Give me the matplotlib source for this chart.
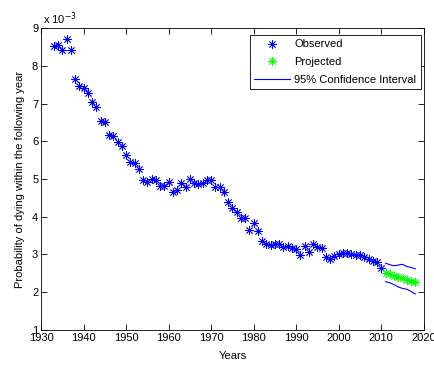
import matplotlib
matplotlib.use("Agg")
import matplotlib.pyplot as plt
import numpy as np

plt.rcParams['font.family'] = ['Liberation Sans', 'DejaVu Sans']

# observed death probability (units of 1e-3)
obs_years = np.arange(1933, 2011)
obs_vals = [8.53, 8.55, 8.42, 8.71, 8.42, 7.65, 7.47, 7.42, 7.29, 7.03,
            6.92, 6.55, 6.52, 6.18, 6.13, 5.97, 5.88, 5.64, 5.44, 5.42,
            5.26, 4.97, 4.93, 5.00, 4.97, 4.81, 4.81, 4.91, 4.66, 4.71,
            4.89, 4.78, 4.99, 4.90, 4.86, 4.90, 4.97, 4.97, 4.78, 4.78,
            4.65, 4.40, 4.22, 4.13, 3.96, 3.98, 3.65, 3.83, 3.63, 3.37,
            3.28, 3.25, 3.28, 3.28, 3.19, 3.23, 3.16, 3.14, 2.99, 3.23,
            3.07, 3.28, 3.20, 3.16, 2.93, 2.87, 2.96, 3.01, 3.05, 3.05,
            3.01, 2.99, 2.99, 2.93, 2.87, 2.84, 2.79, 2.63]

# projection with 95% bounds
proj_years = np.arange(2011, 2019)
proj_vals = [2.52, 2.47, 2.43, 2.40, 2.37, 2.33, 2.29, 2.26]
ci_upper = [2.77, 2.73, 2.70, 2.72, 2.74, 2.68, 2.66, 2.62]
ci_lower = [2.28, 2.25, 2.20, 2.14, 2.10, 2.08, 2.02, 1.95]

fig = plt.figure(figsize=(4.34, 3.65), dpi=100)
ax = fig.add_axes([0.0945, 0.096, 0.882, 0.827])

star = (8, 2, 0)
ax.plot(obs_years, obs_vals, linestyle='none', marker=star, color='b',
        markersize=6, markeredgewidth=0.6, label='Observed')
ax.plot(proj_years, proj_vals, linestyle='none', marker=star, color='#00ff00',
        markersize=6, markeredgewidth=0.6, label='Projected')
ax.plot(proj_years, ci_upper, color='b', linewidth=0.8,
        label='95% Confidence Interval')
ax.plot(proj_years, ci_lower, color='b', linewidth=0.8)

ax.set_xlim(1930, 2020)
ax.set_ylim(1, 9)
ax.set_xticks(np.arange(1930, 2021, 10))
ax.set_yticks(np.arange(1, 10))
ax.tick_params(direction='in', top=True, right=True, labelsize=8, length=4,
               width=0.6, pad=2)
for s in ax.spines.values():
    s.set_linewidth(0.6)

ax.set_xlabel('Years', fontsize=8, labelpad=6)
ax.set_ylabel('Probability of dying within the following year', fontsize=8,
              labelpad=5)
ax.text(0.005, 1.005, r'x 10$^{-3}$', transform=ax.transAxes, fontsize=8,
        va='bottom', ha='left')

leg = ax.legend(loc='upper right', bbox_to_anchor=(0.992, 0.977), fontsize=8,
                fancybox=False, edgecolor='black', framealpha=1,
                borderaxespad=0, handlelength=3.2, borderpad=0.4,
                labelspacing=0.7, handletextpad=0.4)
leg.get_frame().set_linewidth(0.6)

fig.savefig('out.png', dpi=100)
